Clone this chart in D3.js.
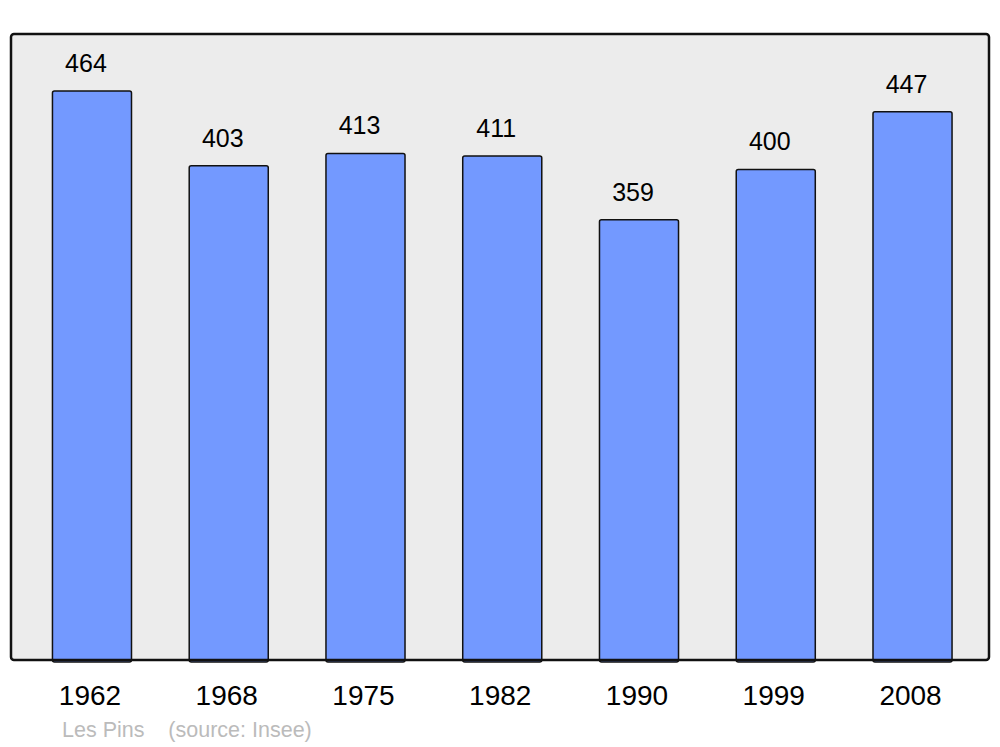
<!DOCTYPE html>
<html><head><meta charset="utf-8">
<script src="https://cdn.jsdelivr.net/npm/d3@7"></script>
<style>body{margin:0;background:#fff}svg{display:block}</style>
</head><body>
<script>
const years = ["1962","1968","1975","1982","1990","1999","2008"];
const population = [464,403,413,411,359,400,447];
const caption = "Les Pins    (source: Insee)";

const W = 1000, H = 747;
const svg = d3.select("body").append("svg").attr("width", W).attr("height", H);

const frame = {x0: 11, x1: 989, y0: 34, y1: 660};
const x = d3.scaleBand().domain(years).range([23.6, 980.9]).paddingInner(0.422).paddingOuter(0.211);
const y = d3.scaleLinear().domain([0, 464 * 1.1]).range([frame.y1, frame.y0]);

svg.append("rect").attr("x", frame.x0).attr("y", frame.y0)
  .attr("width", frame.x1 - frame.x0).attr("height", frame.y1 - frame.y0)
  .attr("rx", 3).attr("fill", "#ececec").attr("stroke", "none");

const data = years.map((yr, i) => ({yr, v: population[i]}));

svg.selectAll("rect.bar").data(data).join("rect").attr("class", "bar")
  .attr("x", d => x(d.yr)).attr("y", d => y(d.v))
  .attr("width", x.bandwidth()).attr("height", d => y(0) - y(d.v) + 2)
  .attr("rx", 2).attr("fill", "#7399ff").attr("stroke", "#111").attr("stroke-width", 1.5);

svg.append("rect").attr("x", frame.x0).attr("y", frame.y0)
  .attr("width", frame.x1 - frame.x0).attr("height", frame.y1 - frame.y0)
  .attr("rx", 3).attr("fill", "none").attr("stroke", "#111").attr("stroke-width", 2.5);

svg.selectAll("text.val").data(data).join("text").attr("class", "val")
  .attr("x", d => x(d.yr) + x.bandwidth() / 2 - 6).attr("y", d => y(d.v) - 19)
  .attr("text-anchor", "middle").attr("font-family", "Liberation Sans, Arial, sans-serif")
  .attr("font-size", 25).attr("fill", "#000").text(d => d.v);

const xAxis = d3.axisBottom(x).tickSize(0).tickPadding(0);
const gx = svg.append("g").attr("transform", `translate(0,${frame.y1})`).call(xAxis);
gx.select(".domain").remove();
gx.selectAll("text").attr("font-family", "Liberation Sans, Arial, sans-serif")
  .attr("font-size", 28).attr("fill", "#000").attr("dy", null).attr("y", 45)
  .attr("dx", -2);

svg.append("text").attr("x", 62).attr("y", 737).attr("xml:space", "preserve")
  .style("white-space", "pre")
  .attr("font-family", "Liberation Sans, Arial, sans-serif").attr("font-size", 21.5)
  .attr("fill", "#bbbbbb").text(caption);
</script>
</body></html>
